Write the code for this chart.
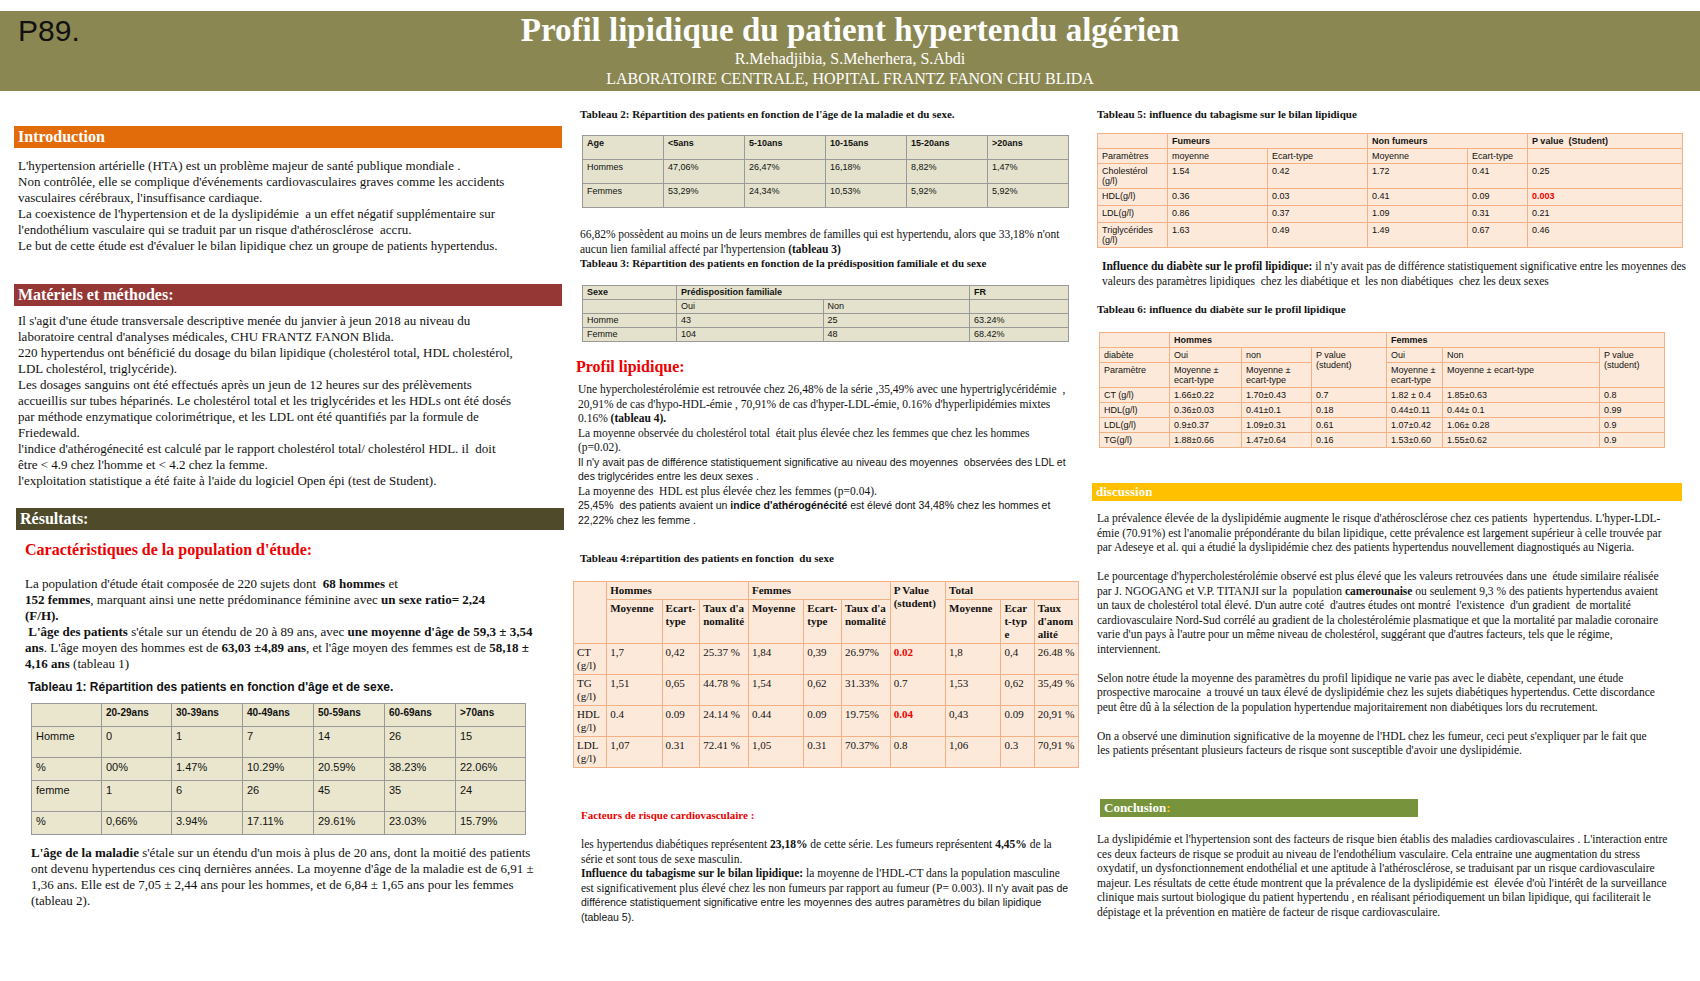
<!DOCTYPE html>
<html><head><meta charset="utf-8">
<script src="https://cdn.jsdelivr.net/npm/chart.js"></script>
<style>
body{margin:0;width:1700px;height:981px;background:#fff;font-family:"Liberation Serif",serif;color:#111;overflow:hidden;position:relative}
.abs{position:absolute}
p{margin:0}
.txt{font-size:13px;line-height:16px}
.band{color:#fff;font-size:16px;font-weight:bold;padding:1px 4px;height:20px;line-height:20px}
table{border-collapse:collapse;font-family:"Liberation Sans",sans-serif;font-size:9px;table-layout:fixed}
td{border:1px solid #999;padding:2px 4px;vertical-align:top;overflow:hidden}
.t1 td{background:#e9e6cd;font-size:11px;padding:3px 4px;height:16px}
.t2 td{background:#e4e2cc;height:19px}
.t3 td{background:#e4e2cc;height:10px;padding:1px 4px;line-height:11px}
.pk td{background:#fde9d9;border-color:#f4b183}
.t4 td{font-family:"Liberation Serif",serif;font-size:11px;line-height:13px;padding:2px 3px;word-break:break-all}
.red{color:#e00;font-weight:bold}
.mid{font-size:11.5px;line-height:14.5px}
</style></head><body>
<script>
const t1Head=["","20-29ans","30-39ans","40-49ans","50-59ans","60-69ans",">70ans"];
const t1Homme=["Homme","0","1","7","14","26","15"];
const t1HommePct=["%","00%","1.47%","10.29%","20.59%","38.23%","22.06%"];
const t1Femme=["femme","1","6","26","45","35","24"];
const t1FemmePct=["%","0,66%","3.94%","17.11%","29.61%","23.03%","15.79%"];
const t2Head=["Age","<5ans","5-10ans","10-15ans","15-20ans",">20ans"];
const t2Hommes=["Hommes","47,06%","26,47%","16,18%","8,82%","1,47%"];
const t2Femmes=["Femmes","53,29%","24,34%","10,53%","5,92%","5,92%"];
const t3Homme=["Homme","43","25","63.24%"];
const t3Femme=["Femme","104","48","68.42%"];
const t4Rows=[
["CT (g/l)","1,7","0,42","25.37 %","1,84","0,39","26.97%","0.02","1,8","0,4","26.48 %"],
["TG (g/l)","1,51","0,65","44.78 %","1,54","0,62","31.33%","0.7","1,53","0,62","35,49 %"],
["HDL (g/l)","0.4","0.09","24.14 %","0.44","0.09","19.75%","0.04","0,43","0.09","20,91 %"],
["LDL (g/l)","1,07","0.31","72.41 %","1,05","0.31","70.37%","0.8","1,06","0.3","70,91 %"]];
const t5Rows=[
["Cholestérol (g/l)","1.54","0.42","1.72","0.41","0.25"],
["HDL(g/l)","0.36","0.03","0.41","0.09","0.003"],
["LDL(g/l)","0.86","0.37","1.09","0.31","0.21"],
["Triglycérides (g/l)","1.63","0.49","1.49","0.67","0.46"]];
const t6Rows=[
["CT (g/l)","1.66±0.22","1.70±0.43","0.7","1.82 ± 0.4","1.85±0.63","0.8"],
["HDL(g/l)","0.36±0.03","0.41±0.1","0.18","0.44±0.11","0.44± 0.1","0.99"],
["LDL(g/l)","0.9±0.37","1.09±0.31","0.61","1.07±0.42","1.06± 0.28","0.9"],
["TG(g/l)","1.88±0.66","1.47±0.64","0.16","1.53±0.60","1.55±0.62","0.9"]];
function row(a,red){return "<tr>"+a.map((v,i)=>"<td"+(red&&red(i,v)?" class='red'":"")+">"+v+"</td>").join("")+"</tr>";}
</script>

<div class="abs" style="left:0;top:11px;width:1700px;height:80px;background:#8b8752"></div>
<div class="abs" style="left:18px;top:14px;font-family:'Liberation Sans',sans-serif;font-size:30px">P89.</div>
<div class="abs" style="left:0;top:11px;width:1700px;text-align:center;color:#fff">
<div style="font-size:33px;font-weight:bold;line-height:38px">Profil lipidique du patient hypertendu algérien</div>
<div style="font-size:16px;line-height:20px">R.Mehadjibia, S.Meherhera, S.Abdi</div>
<div style="font-size:16px;line-height:20px">LABORATOIRE CENTRALE, HOPITAL FRANTZ FANON CHU BLIDA</div></div>

<!-- LEFT -->
<div class="abs band" style="left:14px;top:126px;width:540px;background:#e36c0a">Introduction</div>
<div class="abs txt" style="left:18px;top:158px;width:530px">L'hypertension artérielle (HTA) est un problème majeur de santé publique mondiale .<br>Non contrôlée, elle se complique d'événements cardiovasculaires graves comme les accidents vasculaires cérébraux, l'insuffisance cardiaque.<br>La coexistence de l'hypertension et de la dyslipidémie&nbsp; a un effet négatif supplémentaire sur l'endothélium vasculaire qui se traduit par un risque d'athérosclérose&nbsp; accru.<br>Le but de cette étude est d'évaluer le bilan lipidique chez un groupe de patients hypertendus.</div>
<div class="abs band" style="left:14px;top:284px;width:540px;background:#953735">Matériels et méthodes:</div>
<div class="abs txt" style="left:18px;top:313px;width:500px">Il s'agit d'une étude transversale descriptive menée du janvier à jeun 2018 au niveau du laboratoire central d'analyses médicales, CHU FRANTZ FANON Blida.<br>220 hypertendus ont bénéficié du dosage du bilan lipidique (cholestérol total, HDL cholestérol, LDL cholestérol, triglycéride).<br>Les dosages sanguins ont été effectués après un jeun de 12 heures sur des prélèvements accueillis sur tubes héparinés. Le cholestérol total et les triglycérides et les HDLs ont été dosés par méthode enzymatique colorimétrique, et les LDL ont été quantifiés par la formule de Friedewald.<br>l'indice d'athérogénecité est calculé par le rapport cholestérol total/ cholestérol HDL. il&nbsp; doit être &lt; 4.9 chez l'homme et &lt; 4.2 chez la femme.<br>l'exploitation statistique a été faite à l'aide du logiciel Open épi (test de Student).</div>
<div class="abs band" style="left:16px;top:508px;width:540px;background:#4f4a2a">Résultats:</div>
<div class="abs" style="left:25px;top:541px;color:#e00;font-size:16px;font-weight:bold">Caractéristiques de la population d'étude:</div>
<div class="abs txt" style="left:25px;top:576px;width:520px">La population d'étude était composée de 220 sujets dont&nbsp; <b>68 hommes</b> et<br><b>152 femmes</b>, marquant ainsi une nette prédominance féminine avec <b>un sexe ratio= 2,24</b><br><b>(F/H).</b><br>&nbsp;<b>L'âge des patients</b> s'étale sur un étendu de 20 à 89 ans, avec <b>une moyenne d'âge de 59,3 ± 3,54 ans</b>. L'âge moyen des hommes est de <b>63,03 ±4,89 ans</b>, et l'âge moyen des femmes est de <b>58,18 ± 4,16 ans</b> (tableau 1)</div>
<div class="abs" style="left:28px;top:680px;font-family:'Liberation Sans',sans-serif;font-size:12px;font-weight:bold">Tableau 1: Répartition des patients en fonction d'âge et de sexe.</div>
<div class="abs" id="t1" style="left:31px;top:703px"></div>
<div class="abs txt" style="left:31px;top:845px;width:505px"><b>L'âge de la maladie</b> s'étale sur un étendu d'un mois à plus de 20 ans, dont la moitié des patients ont devenu hypertendus ces cinq dernières années. La moyenne d'âge de la maladie est de 6,91 ± 1,36 ans. Elle est de 7,05 ± 2,44 ans pour les hommes, et de 6,84 ± 1,65 ans pour les femmes (tableau 2).</div>

<!-- MIDDLE -->
<div class="abs" style="left:580px;top:108px;font-size:11px;font-weight:bold">Tableau 2: Répartition des patients en fonction de l'âge de la maladie et du sexe.</div>
<div class="abs" id="t2" style="left:582px;top:135px"></div>
<div class="abs mid" style="left:580px;top:227px;width:490px">66,82% possèdent au moins un de leurs membres de familles qui est hypertendu, alors que 33,18% n'ont aucun lien familial affecté par l'hypertension <b>(tableau 3)</b><br><b style="font-size:11px">Tableau 3: Répartition des patients en fonction de la prédisposition familiale et du sexe</b></div>
<div class="abs" id="t3" style="left:582px;top:285px"></div>
<div class="abs" style="left:576px;top:358px;color:#e00;font-size:16px;font-weight:bold">Profil lipidique:</div>
<div class="abs mid" style="left:578px;top:382px;width:490px">Une hypercholestérolémie est retrouvée chez 26,48% de la série ,35,49% avec une hypertriglycéridémie&nbsp; , 20,91% de cas d'hypo-HDL-émie , 70,91% de cas d'hyper-LDL-émie, 0.16% d'hyperlipidémies mixtes 0.16% <b>(tableau 4).</b><br>La moyenne observée du cholestérol total&nbsp; était plus élevée chez les femmes que chez les hommes (p=0.02).<br><span style="font-family:'Liberation Sans',sans-serif;font-size:10.5px">Il n'y avait pas de différence statistiquement significative au niveau des moyennes&nbsp; observées des LDL et des triglycérides entre les deux sexes .</span><br>La moyenne des&nbsp; HDL est plus élevée chez les femmes (p=0.04).<br><span style="font-family:'Liberation Sans',sans-serif;font-size:10.5px">25,45%&nbsp; des patients avaient un <b>indice d'athérogénécité</b> est élevé dont 34,48% chez les hommes et 22,22% chez les femme .</span></div>
<div class="abs" style="left:580px;top:552px;font-size:11px;font-weight:bold">Tableau 4:répartition des patients en fonction&nbsp; du sexe</div>
<div class="abs" id="t4" style="left:573px;top:581px"></div>
<div class="abs" style="left:581px;top:809px;color:#e00;font-size:11px;font-weight:bold">Facteurs de risque cardiovasculaire :</div>
<div class="abs mid" style="left:581px;top:837px;width:490px">les hypertendus diabétiques représentent <b>23,18%</b> de cette série. Les fumeurs représentent <b>4,45%</b> de la série et sont tous de sexe masculin.<br><b>Influence du tabagisme sur le bilan lipidique:</b> la moyenne de l'HDL-CT dans la population masculine est significativement plus élevé chez les non fumeurs par rapport au fumeur (P= 0.003). <span style="font-family:'Liberation Sans',sans-serif;font-size:10.5px">Il n'y avait pas de différence statistiquement significative entre les moyennes des autres paramètres du bilan lipidique (tableau 5).</span></div>

<!-- RIGHT -->
<div class="abs" style="left:1097px;top:108px;font-size:11px;font-weight:bold">Tableau 5: influence du tabagisme sur le bilan lipidique</div>
<div class="abs" id="t5" style="left:1097px;top:133px"></div>
<div class="abs mid" style="left:1102px;top:259px;width:595px"><b>Influence du diabète sur le profil lipidique:</b> il n'y avait pas de différence statistiquement significative entre les moyennes des valeurs des paramètres lipidiques&nbsp; chez les diabétique et&nbsp; les non diabétiques&nbsp; chez les deux sexes</div>
<div class="abs" style="left:1097px;top:303px;font-size:11px;font-weight:bold">Tableau 6: influence du diabète sur le profil lipidique</div>
<div class="abs" id="t6" style="left:1099px;top:332px"></div>
<div class="abs band" style="left:1092px;top:483px;width:582px;height:16px;line-height:16px;font-size:13px;background:#ffc000">discussion</div>
<div class="abs mid" style="left:1097px;top:511px;width:565px">La prévalence élevée de la dyslipidémie augmente le risque d'athérosclérose chez ces patients&nbsp; hypertendus. L'hyper-LDL-émie (70.91%) est l'anomalie prépondérante du bilan lipidique, cette prévalence est largement supérieur à celle trouvée par par Adeseye et al. qui a étudié la dyslipidémie chez des patients hypertendus nouvellement diagnostiqués au Nigeria.<br><br>Le pourcentage d'hypercholestérolémie observé est plus élevé que les valeurs retrouvées dans une&nbsp; étude similaire réalisée par J. NGOGANG et V.P. TITANJI sur la&nbsp; population <b>camerounaise</b> ou seulement 9,3 % des patients hypertendus avaient un taux de cholestérol total élevé. D'un autre coté&nbsp; d'autres études ont montré&nbsp; l'existence&nbsp; d'un gradient&nbsp; de mortalité cardiovasculaire Nord-Sud corrélé au gradient de la cholestérolémie plasmatique et que la mortalité par maladie coronaire varie d'un pays à l'autre pour un même niveau de cholestérol, suggérant que d'autres facteurs, tels que le régime, interviennent.<br><br>Selon notre étude la moyenne des paramètres du profil lipidique ne varie pas avec le diabète, cependant, une étude prospective marocaine&nbsp; a trouvé un taux élevé de dyslipidémie chez les sujets diabétiques hypertendus. Cette discordance peut être dû à la sélection de la population hypertendue majoritairement non diabétiques lors du recrutement.<br><br>On a observé une diminution significative de la moyenne de l'HDL chez les fumeur, ceci peut s'expliquer par le fait que les patients présentant plusieurs facteurs de risque sont susceptible d'avoir une dyslipidémie.</div>
<div class="abs band" style="left:1100px;top:799px;width:310px;height:16px;line-height:16px;font-size:13px;background:#77933c">Conclusion<span style="color:#ffc000">:</span></div>
<div class="abs mid" style="left:1097px;top:832px;width:575px">La dyslipidémie et l'hypertension sont des facteurs de risque bien établis des maladies cardiovasculaires . L'interaction entre ces deux facteurs de risque se produit au niveau de l'endothélium vasculaire. Cela entraine une augmentation du stress oxydatif, un dysfonctionnement endothélial et une aptitude à l'athérosclérose, se traduisant par un risque cardiovasculaire majeur. Les résultats de cette étude montrent que la prévalence de la dyslipidémie est&nbsp; élevée d'où l'intérêt de la surveillance clinique mais surtout biologique du patient hypertendu , en réalisant périodiquement un bilan lipidique, qui faciliterait le dépistage et la prévention en matière de facteur de risque cardiovasculaire.</div>

<script>
document.getElementById('t1').innerHTML="<table class='t1' style='width:494px'><colgroup>"+[70,70,71,71,71,71,70].map(x=>"<col style='width:"+x+"px'>").join("")+"</colgroup>"+[t1Head,t1Homme,t1HommePct,t1Femme,t1FemmePct].map((r,k)=>"<tr>"+r.map((v,i)=>"<td style='"+(k==0?"font-weight:bold;font-size:10px":"")+(k%2==1?"height:24px":"")+"'>"+v+"</td>").join("")+"</tr>").join("")+"</table>";
document.getElementById('t2').innerHTML="<table class='t2' style='width:487px'>"+row(t2Head).replace(/<td>/g,"<td style='font-weight:bold'>")+row(t2Hommes)+row(t2Femmes)+"</table>";
document.getElementById('t3').innerHTML="<table class='t3' style='width:487px'><tr><td style='width:85px;font-weight:bold'>Sexe</td><td colspan=2 style='font-weight:bold'>Prédisposition familiale</td><td style='width:90px;font-weight:bold'>FR</td></tr><tr><td></td><td style='width:160px'>Oui</td><td style='width:125px'>Non</td><td></td></tr>"+row(t3Homme)+row(t3Femme)+"</table>";
const sub="<td>Moyenne</td><td>Ecart-type</td><td>Taux d'anomalité</td>";
const cw=[30,50,34,44,50,34,44,50,50,30,40];
document.getElementById('t4').innerHTML="<table class='pk t4' style='width:506px'><colgroup>"+cw.map(x=>"<col style='width:"+x+"px'>").join("")+"</colgroup><tr style='font-weight:bold'><td rowspan=2></td><td colspan=3>Hommes</td><td colspan=3>Femmes</td><td rowspan=2 style='word-break:normal'>P Value (student)</td><td colspan=3>Total</td></tr><tr style='font-weight:bold'>"+sub+sub+sub+"</tr>"+t4Rows.map(r=>row(r,(i,v)=>i==7&&(v=="0.02"||v=="0.04"))).join("")+"</table>";
document.getElementById('t5').innerHTML="<table class='pk' style='width:585px'><colgroup><col style='width:70px'><col style='width:100px'><col style='width:100px'><col style='width:100px'><col style='width:60px'><col style='width:155px'></colgroup><tr style='font-weight:bold'><td></td><td colspan=2>Fumeurs</td><td colspan=2>Non fumeurs</td><td>P value&nbsp; (Student)</td></tr><tr><td>Paramètres</td><td>moyenne</td><td>Ecart-type</td><td>Moyenne</td><td>Ecart-type</td><td></td></tr>"+t5Rows.map(r=>row(r,(i,v)=>v=="0.003")).join("").replace(/<td>/g,"<td style='height:12px'>")+"</table>";
document.getElementById('t6').innerHTML="<table class='pk' style='width:565px'><colgroup><col style='width:70px'><col style='width:72px'><col style='width:70px'><col style='width:75px'><col style='width:56px'><col style='width:157px'><col style='width:65px'></colgroup><tr style='font-weight:bold'><td></td><td colspan=3>Hommes</td><td colspan=3>Femmes</td></tr><tr><td>diabète</td><td>Oui</td><td>non</td><td rowspan=2>P value (student)</td><td>Oui</td><td>Non</td><td rowspan=2>P value (student)</td></tr><tr><td>Paramètre</td><td>Moyenne ± ecart-type</td><td>Moyenne ± ecart-type</td><td>Moyenne ± ecart-type</td><td>Moyenne ± ecart-type</td></tr>"+t6Rows.map(r=>row(r)).join("")+"</table>";
</script>
</body></html>
